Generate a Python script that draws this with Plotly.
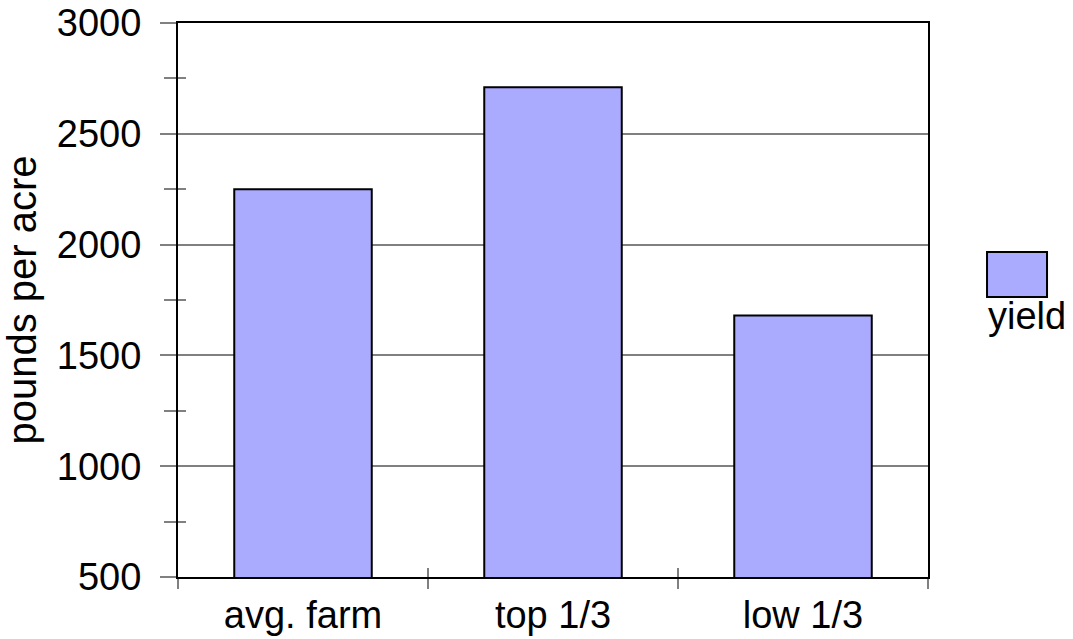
import plotly.graph_objects as go

# Yield per farm group
categories = ["avg. farm", "top 1/3", "low 1/3"]
yield_values = [2250, 2710, 1680]
series_name = "yield"
y_title = "pounds per acre"

Y_MIN, Y_MAX = 500, 3000
BAR_FLOOR = 482  # bars start just under the axis line

FONT = "Liberation Sans, Arial, sans-serif"
BAR_FILL = "#aaaaff"
GRAY = "#808080"

fig = go.Figure()

fig.add_trace(go.Bar(
    x=categories,
    y=[v - BAR_FLOOR for v in yield_values],
    base=BAR_FLOOR,
    name=series_name,
    width=0.55,
    marker=dict(color=BAR_FILL, line=dict(color="black", width=2)),
    cliponaxis=False,
    showlegend=False,
))

# helper trace so the overlay axes (inside ticks) are drawn
fig.add_trace(go.Scatter(
    x=[0], y=[Y_MIN], xaxis="x2", yaxis="y2",
    mode="markers", marker=dict(opacity=0), showlegend=False, hoverinfo="skip",
))

fig.update_layout(
    width=1073, height=639,
    margin=dict(l=178, r=145, t=23, b=62, autoexpand=False),
    paper_bgcolor="white", plot_bgcolor="white",
    font=dict(family=FONT, size=38, color="black"),
    bargap=0.45,
    xaxis=dict(
        type="category",
        tickson="boundaries",
        ticks="outside", ticklen=10, tickwidth=2, tickcolor=GRAY,
        showgrid=False, zeroline=False,
        showline=True, linecolor="black", linewidth=2, mirror=True,
        tickfont=dict(size=38),
        ticklabelstandoff=3,
        automargin=False,
    ),
    xaxis2=dict(
        overlaying="x", anchor="y",
        range=[-0.5, 2.5],
        tickvals=[-0.5, 0.5, 1.5, 2.5],
        ticks="inside", ticklen=9, tickwidth=2, tickcolor=GRAY,
        showticklabels=False, showgrid=False, zeroline=False, showline=False,
        automargin=False,
    ),
    yaxis=dict(
        range=[Y_MIN, Y_MAX],
        dtick=500,
        ticks="outside", ticklen=16, tickwidth=2, tickcolor=GRAY,
        minor=dict(dtick=250, ticks="outside", ticklen=12, tickwidth=2,
                   tickcolor=GRAY, showgrid=False),
        showgrid=True, gridcolor=GRAY, gridwidth=2,
        zeroline=False,
        showline=True, linecolor="black", linewidth=2, mirror=True,
        tickfont=dict(size=38),
        ticklabelstandoff=11,
        title=dict(text=y_title, font=dict(size=40), standoff=17),
        automargin=False,
    ),
    yaxis2=dict(
        overlaying="y", anchor="x",
        range=[Y_MIN, Y_MAX],
        dtick=500,
        ticks="inside", ticklen=13, tickwidth=2, tickcolor=GRAY,
        minor=dict(dtick=250, ticks="inside", ticklen=8, tickwidth=2,
                   tickcolor=GRAY, showgrid=False),
        showticklabels=False, showgrid=False, zeroline=False, showline=False,
        automargin=False,
    ),
)

# legend key: swatch with the series name underneath
fig.add_shape(
    type="rect", xref="paper", yref="paper",
    x0=1.0787, x1=1.1587, y0=0.5054, y1=0.5866,
    fillcolor=BAR_FILL, line=dict(color="black", width=2),
)
fig.add_annotation(
    xref="paper", yref="paper", x=1.0787, y=0.51,
    xanchor="left", yanchor="top", showarrow=False,
    text=series_name, font=dict(size=38), borderpad=0,
)

fig.write_html("out.html")
